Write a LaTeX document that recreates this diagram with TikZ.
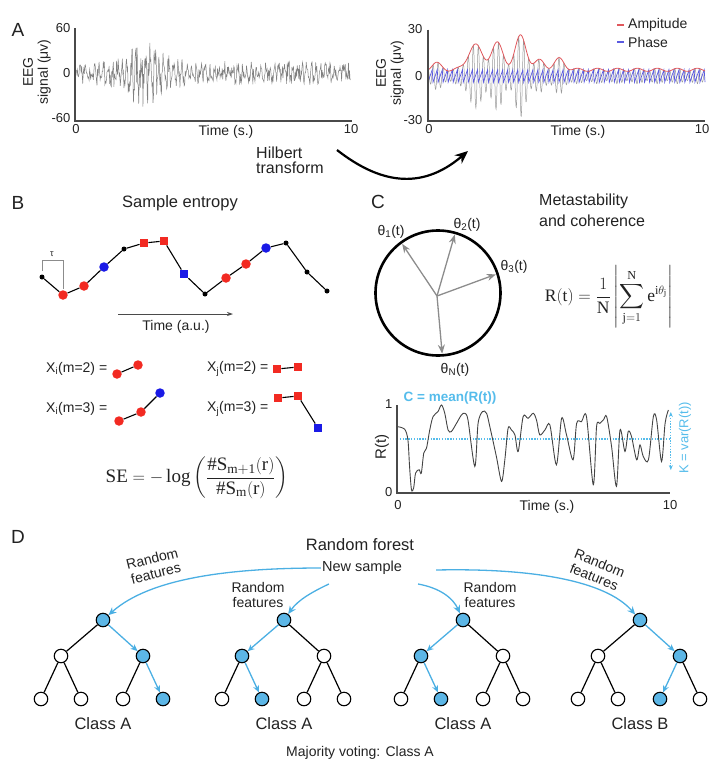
\documentclass[tikz,border=0pt]{standalone}
\usepackage{amsmath}
\usepackage{fontspec}
\setmainfont{Liberation Sans}
\setmathrm{Liberation Serif}
\usetikzlibrary{arrows.meta, calc, positioning}

\definecolor{inkDark}{HTML}{222222}
\definecolor{axisGray}{HTML}{4A4A4A}
\definecolor{traceGray}{HTML}{808080}
\definecolor{carrierGray}{HTML}{9A9A9A}
\definecolor{ampRed}{HTML}{E0575C}
\definecolor{phaseBlue}{HTML}{5A5AE0}
\definecolor{seRed}{HTML}{F22A22}
\definecolor{seBlue}{HTML}{1A1AE6}
\definecolor{arrowGray}{HTML}{8C8C8C}
\definecolor{meanCyan}{HTML}{55BCEB}
\definecolor{forestBlue}{HTML}{4BAFE3}
\definecolor{nodeBlue}{HTML}{5CB6E6}

\tikzset{
    panelTag/.style={font=\fontsize{19}{21}\selectfont, text=inkDark, inner sep=0pt},
    tickText/.style={font=\fontsize{13}{15}\selectfont, text=inkDark, inner sep=1.5pt},
    plainText/.style={font=\fontsize{14}{15}\selectfont, text=inkDark, inner sep=1pt},
    titleText/.style={font=\fontsize{16.5}{18}\selectfont, text=inkDark, inner sep=1pt},
    xText/.style={font=\fontsize{14}{16}\selectfont, text=inkDark, inner sep=1pt},
    formulaText/.style={font=\fontsize{17.5}{19}\selectfont, text=inkDark, inner sep=1pt},
    axisLine/.style={draw=axisGray, line width=1.1pt},
    eegTrace/.style={draw=traceGray, line width=0.5pt},
    carrierTrace/.style={draw=carrierGray, line width=0.5pt},
    ampLine/.style={draw=ampRed, line width=0.8pt},
    phaseLine/.style={draw=phaseBlue, line width=0.7pt},
    hilbertArrow/.style={line width=2.2pt, -{Stealth[length=13pt, width=11pt]}},
    ptBlack/.style={circle, fill=black, inner sep=0pt, minimum size=5pt},
    ptRed/.style={circle, fill=seRed, inner sep=0pt, minimum size=9.5pt},
    ptBlue/.style={circle, fill=seBlue, inner sep=0pt, minimum size=9.5pt},
    sqRed/.style={rectangle, fill=seRed, inner sep=0pt, minimum size=8.5pt},
    sqBlue/.style={rectangle, fill=seBlue, inner sep=0pt, minimum size=8.5pt},
    seLine/.style={line width=1.1pt},
    tauLine/.style={draw=arrowGray, line width=0.8pt},
    timeArrow/.style={draw=axisGray, line width=0.8pt, -{Stealth[length=6pt, width=4pt]}},
    clockFace/.style={circle, draw=black, line width=2.6pt, minimum size=125pt, inner sep=0pt},
    phaseArrow/.style={draw=arrowGray, line width=1.3pt, shorten >=3pt, -{Stealth[length=9pt, width=7pt]}},
    rTrace/.style={draw=inkDark!85, line width=0.9pt},
    meanLine/.style={draw=meanCyan, line width=1.3pt, dash pattern=on 1.4pt off 1.4pt},
    varArrow/.style={draw=meanCyan, line width=1.3pt, dash pattern=on 1.4pt off 1.4pt, {Stealth[length=5pt, width=4pt]}-{Stealth[length=5pt, width=4pt]}},
    treeNode/.style={circle, draw=black, line width=1.1pt, fill=white, minimum size=13.5pt, inner sep=0pt},
    hot/.style={fill=nodeBlue},
    treeEdge/.style={line width=1.2pt},
    hotEdge/.style={draw=forestBlue, line width=1.3pt, -{Stealth[length=7pt, width=6pt]}},
    featureArc/.style={draw=forestBlue, line width=1.3pt, -{Stealth[length=8pt, width=7pt]}},
}

\newcommand{\drawTree}[9]{
    % one tree: name, root x, then fills of root, l, r, ll, lr, rl, rr
    \node[treeNode, #3] (#1) at (#2, 620) {};
    \node[treeNode, #4] (#1l) at ($(#1)+(-42,36)$) {};
    \node[treeNode, #5] (#1r) at ($(#1)+(40,36)$) {};
    \node[treeNode, #6] (#1ll) at ($(#1l)+(-20,43)$) {};
    \node[treeNode, #7] (#1lr) at ($(#1l)+(20,43)$) {};
    \node[treeNode, #8] (#1rl) at ($(#1r)+(-20,43)$) {};
    \node[treeNode, #9] (#1rr) at ($(#1r)+(20,43)$) {};
}
\newcommand{\drawBranch}[3][treeEdge]{
    \draw[#1] (#2) -- (#3);
}

\begin{document}
\begin{tikzpicture}[x=1pt, y=-1pt,
    declare function={
        bump(\t,\c,\w)=exp(max(-9,0-((\t-\c)/\w)^2));
        envL(\t)=15+30*bump(\t,2.5,0.95);
        envR(\t)=3+4*bump(\t,0.3,0.25)+16*bump(\t,1.7,0.35)+17*bump(\t,2.5,0.3)+22*bump(\t,3.35,0.28)+6*bump(\t,4.05,0.25)+7*bump(\t,4.75,0.25)+2*sin(250*\t)^2;
    }]
\useasboundingbox (0,0) rectangle (720,766);

% A: raw EEG and Hilbert transform
\node[panelTag] (tagA) at (18,30) {A};
\begin{scope}[shift={(75,73)}, x={(27.7pt,0pt)}, y={(0pt,0.75pt)}]
    \pgfmathsetseed{11}
    \draw[eegTrace] plot[domain=0.05:9.95, samples=520] (\x, {envL(\x)*(0.6*sin(360*mod(6*\x,1)+70*rand)+0.45*rand)});
    \draw[axisLine] (0,60) -- (0,-64) -- (10,-64);
\end{scope}
\node[tickText, anchor=east] (yTopL) at (72,28) {60};
\node[tickText, anchor=east] (yMidL) at (72,73) {0};
\node[tickText, anchor=east] (yLowL) at (72,118) {-60};
\node[tickText] (xZeroL) at (76,129) {0};
\node[tickText] (xTenL) at (351,129) {10};
\node[tickText, font=\fontsize{14}{15}\selectfont] (timeL) at (226,132) {Time (s.)};
\node[tickText, rotate=90, align=center, font=\fontsize{14}{15}\selectfont] (eegL) at (37,72) {EEG\\signal (μv)};

\begin{scope}[shift={(428,76)}, x={(27.7pt,0pt)}, y={(0pt,1.55pt)}]
    \draw[carrierTrace] plot[domain=0:10, samples=1001] (\x, {envR(\x)*cos(360*mod(5.5*\x,1))});
    \draw[phaseLine] (0,-4) \foreach \k in {1,...,55} { -- ({\k/5.5-0.03},4) -- ({\k/5.5},-4) };
    \draw[ampLine] plot[domain=0:10, samples=301] (\x, {envR(\x)});
    \draw[axisLine] (0,30) -- (0,-29) -- (10,-29);
\end{scope}
\node[tickText, anchor=east] (yTopR) at (424,29) {30};
\node[tickText, anchor=east] (yMidR) at (424,76) {0};
\node[tickText, anchor=east] (yLowR) at (424,120) {-30};
\node[tickText] (xZeroR) at (429,129) {0};
\node[tickText] (xTenR) at (702,129) {10};
\node[tickText, font=\fontsize{14}{15}\selectfont] (timeR) at (578,132) {Time (s.)};
\node[tickText, rotate=90, align=center, font=\fontsize{14}{15}\selectfont] (eegR) at (390,73) {EEG\\signal (μv)};
\node[plainText, anchor=west] (ampLegend) at (627,25) {Ampitude};
\node[plainText, anchor=west] (phaseLegend) at (627,42) {Phase};
\draw[ampLine, line width=1.4pt] ($(ampLegend.west)+(-10,0)$) -- ($(ampLegend.west)+(-3,0)$);
\draw[phaseLine, line width=1.4pt] ($(phaseLegend.west)+(-10,0)$) -- ($(phaseLegend.west)+(-3,0)$);

\node[titleText, align=left, anchor=west, font=\fontsize{16}{15}\selectfont] (hilbert) at (255,160) {Hilbert\\transform};
\coordinate (hilbStart) at (337,150);
\coordinate (hilbEnd) at (468,151);
\draw[hilbertArrow] (hilbStart) .. controls (378,182) and (420,192) .. (hilbEnd);

% B: sample entropy
\node[panelTag] (tagB) at (18,203) {B};
\node[titleText] (sampEnt) at (180,203) {Sample entropy};
\foreach \i/\px/\py/\kind in {1/42/277/ptBlack, 2/63/295/ptRed, 3/84/286/ptRed, 4/104/267/ptBlue,
    5/124/249/ptBlack, 6/144/243/sqRed, 7/164/241/sqRed, 8/184/274/sqBlue, 9/205/294/ptBlack,
    10/226/278/ptRed, 11/246/264/ptRed, 12/266/248/ptBlue, 13/286/243/ptBlack, 14/307/272/ptBlack, 15/327/291/ptBlack}
    \node[\kind] (s\i) at (\px,\py) {};
\foreach \a [count=\b from 2] in {1,...,14}
    \draw[seLine] (s\a) -- (s\b);
\draw[tauLine] ($(s1)+(0,-6)$) |- ($(s2)+(0,-35)$) -- ($(s2)+(0,-6)$);
\node[font=\fontsize{9}{10}\selectfont, text=inkDark, inner sep=0pt] (tau) at (52,254) {τ};
\coordinate (timeFrom) at (118,314);
\coordinate (timeTo) at (233,314);
\draw[timeArrow] (timeFrom) -- (timeTo);
\node[plainText] (timeAU) at (176,327) {Time (a.u.)};

\node[xText, anchor=west] (xi2) at (45,369) {X\textsubscript{i}(m=2) =};
\node[ptRed] (xi2a) at (117,374) {};
\node[ptRed] (xi2b) at (138,365) {};
\draw[seLine] (xi2a) -- (xi2b);
\node[xText, anchor=west] (xj2) at (206,369) {X\textsubscript{j}(m=2) =};
\node[sqRed] (xj2a) at (277,369) {};
\node[sqRed] (xj2b) at (298,367) {};
\draw[seLine] (xj2a) -- (xj2b);
\node[xText, anchor=west] (xi3) at (45,409) {X\textsubscript{i}(m=3) =};
\node[ptRed] (xi3a) at (119,421) {};
\node[ptRed] (xi3b) at (141,412) {};
\node[ptBlue] (xi3c) at (160,393) {};
\draw[seLine] (xi3a) -- (xi3b) -- (xi3c);
\node[xText, anchor=west] (xj3) at (206,409) {X\textsubscript{j}(m=3) =};
\node[sqRed] (xj3a) at (278,398) {};
\node[sqRed] (xj3b) at (298,396) {};
\node[sqBlue] (xj3c) at (318,428) {};
\draw[seLine] (xj3a) -- (xj3b) -- (xj3c);

\node[formulaText, font=\fontsize{19}{21}\selectfont] (seFormula) at (197,478) {$\displaystyle\mathrm{SE}=-\log\left(\frac{\#\mathrm{S}_{\mathrm{m+1}}(\mathrm{r})}{\#\mathrm{S}_{\mathrm{m}}(\mathrm{r})}\right)$};

% C: metastability and coherence
\node[panelTag] (tagC) at (378,202) {C};
\node[titleText, align=left, anchor=west, font=\fontsize{16}{21}\selectfont] (metaTitle) at (538,210) {Metastability\\and coherence};
\node[clockFace] (clock) at (438,293) {};
\coordinate (hub) at (437,296);
\foreach \ang in {126,74,18,-86}
    \draw[phaseArrow] (hub) -- (clock.\ang);
\node[tickText, font=\fontsize{14}{15}\selectfont] (theta1) at (391,232) {θ\textsubscript{1}(t)};
\node[tickText, font=\fontsize{14}{15}\selectfont] (theta2) at (467,225) {θ\textsubscript{2}(t)};
\node[tickText, font=\fontsize{14}{15}\selectfont] (theta3) at (514,267) {θ\textsubscript{3}(t)};
\node[tickText, font=\fontsize{14}{15}\selectfont] (thetaN) at (455,370) {θ\textsubscript{N}(t)};
\node[formulaText] (rFormula) at (609,297) {$\displaystyle\mathrm{R(t)}=\frac{1}{\mathrm{N}}\left|\sum_{\mathrm{j}=1}^{\mathrm{N}}\mathrm{e}^{\mathrm{i}\theta_{\mathrm{j}}}\right|$};

\begin{scope}[shift={(397,493)}, x={(27.3pt,0pt)}, y={(0pt,88pt)}]
    \draw[meanLine] (0,0.614) -- (10,0.614);
    \draw[rTrace] plot[smooth, tension=0.5] coordinates {
        (0,0.755) (0.28,0.725) (0.40,0.604) (0.46,0.302) (0.53,0.038) (0.61,0.057) (0.68,0.226)
        (0.81,0.264) (0.89,0.226) (0.98,0.453) (1.08,0.509) (1.20,0.717) (1.32,0.868) (1.50,0.925)
        (1.63,1.0) (1.75,0.906) (1.87,0.717) (1.99,0.698) (2.18,0.792) (2.36,0.887) (2.48,0.906)
        (2.60,0.830) (2.85,0.302) (2.97,0.792) (3.13,0.925) (3.28,0.906) (3.40,0.755) (3.64,0.415)
        (3.83,0.132) (3.95,0.377) (4.07,0.736) (4.19,0.717) (4.32,0.660) (4.44,0.472) (4.62,0.868)
        (4.80,0.849) (4.99,0.906) (5.11,0.830) (5.23,0.660) (5.42,0.717) (5.60,0.774) (5.84,0.321)
        (6.03,0.849) (6.21,0.660) (6.45,0.377) (6.58,0.792) (6.76,0.811) (6.94,0.868) (7.19,0.094)
        (7.31,0.755) (7.43,0.792) (7.56,0.830) (7.68,0.868) (7.86,0.528) (8.04,0.075) (8.17,0.717)
        (8.35,0.472) (8.47,0.698) (8.59,0.642) (8.78,0.377) (8.90,0.547) (9.02,0.415) (9.21,0.377)
        (9.39,0.868) (9.51,0.830) (9.69,0.358) (9.82,0.792) (9.94,0.943)};
    \draw[axisLine] (0,1) -- (0,0) -- (10,0);
    \coordinate (kTop) at (10.03,0.92);
    \coordinate (kBottom) at (10.03,0.26);
\end{scope}
\draw[varArrow] (kTop) -- (kBottom);
\node[tickText, anchor=east] (rOne) at (394,404) {1};
\node[tickText, anchor=east] (rZero) at (394,492) {0};
\node[tickText] (xZeroC) at (398,505) {0};
\node[tickText] (xTenC) at (670,505) {10};
\node[tickText, font=\fontsize{14}{15}\selectfont] (timeC) at (547,507) {Time (s.)};
\node[tickText, rotate=90, font=\fontsize{15}{16}\selectfont] (rLabel) at (382,447) {R(t)};
\node[tickText, anchor=west, text=meanCyan, font=\fontsize{13.5}{15}\bfseries] (meanLabel) at (402,398) {C = mean(R(t))};
\node[tickText, rotate=90, text=meanCyan, font=\fontsize{13}{14}\selectfont] (varLabel) at (685,438) {K = var(R(t))};

% D: random forest
\node[panelTag] (tagD) at (18,537) {D};
\node[titleText] (forest) at (360,545) {Random forest};
\node[plainText, font=\fontsize{14.5}{16}\selectfont] (newsample) at (362,568) {New sample};

\drawTree{T1}{103}{hot}{}{hot}{}{}{}{hot}
\drawTree{T2}{284}{hot}{hot}{}{}{hot}{}{}
\drawTree{T3}{463}{hot}{hot}{}{}{hot}{}{}
\drawTree{T4}{640}{hot}{}{hot}{}{}{hot}{}

\drawBranch{T1}{T1l} \drawBranch[hotEdge]{T1}{T1r} \drawBranch{T1l}{T1ll} \drawBranch{T1l}{T1lr} \drawBranch{T1r}{T1rl} \drawBranch[hotEdge]{T1r}{T1rr}
\drawBranch[hotEdge]{T2}{T2l} \drawBranch{T2}{T2r} \drawBranch{T2l}{T2ll} \drawBranch[hotEdge]{T2l}{T2lr} \drawBranch{T2r}{T2rl} \drawBranch{T2r}{T2rr}
\drawBranch[hotEdge]{T3}{T3l} \drawBranch{T3}{T3r} \drawBranch{T3l}{T3ll} \drawBranch[hotEdge]{T3l}{T3lr} \drawBranch{T3r}{T3rl} \drawBranch{T3r}{T3rr}
\drawBranch{T4}{T4l} \drawBranch[hotEdge]{T4}{T4r} \drawBranch{T4l}{T4ll} \drawBranch{T4l}{T4lr} \drawBranch[hotEdge]{T4r}{T4rl} \drawBranch{T4r}{T4rr}

\coordinate (arcB) at ($(newsample.west)+(8,16)$);
\coordinate (arcC) at ($(newsample.east)+(15,16)$);
\coordinate (arcD) at ($(newsample.east)+(33,2)$);
\draw[featureArc] (newsample.west) .. controls (230,568) and (150,578) .. (T1);
\draw[featureArc] (arcB) .. controls (312,592) and (298,600) .. (T2);
\draw[featureArc] (arcC) .. controls (440,588) and (453,598) .. (T3);
\draw[featureArc] (arcD) .. controls (530,568) and (605,580) .. (T4);
\node[plainText, align=center, rotate=14] (feat1) at (154,566) {Random\\features};
\node[plainText, align=center] (feat2) at (258,595) {Random\\features};
\node[plainText, align=center] (feat3) at (490,595) {Random\\features};
\node[plainText, align=center, rotate=-22] (feat4) at (597,570) {Random\\features};

\node[titleText] (class1) at ($(T1)+(0,104)$) {Class A};
\node[titleText] (class2) at ($(T2)+(0,104)$) {Class A};
\node[titleText] (class3) at ($(T3)+(0,104)$) {Class A};
\node[titleText] (class4) at ($(T4)+(0,104)$) {Class B};
\node[plainText] (voting) at (360,753) {Majority voting: Class A};
\end{tikzpicture}
\end{document}
